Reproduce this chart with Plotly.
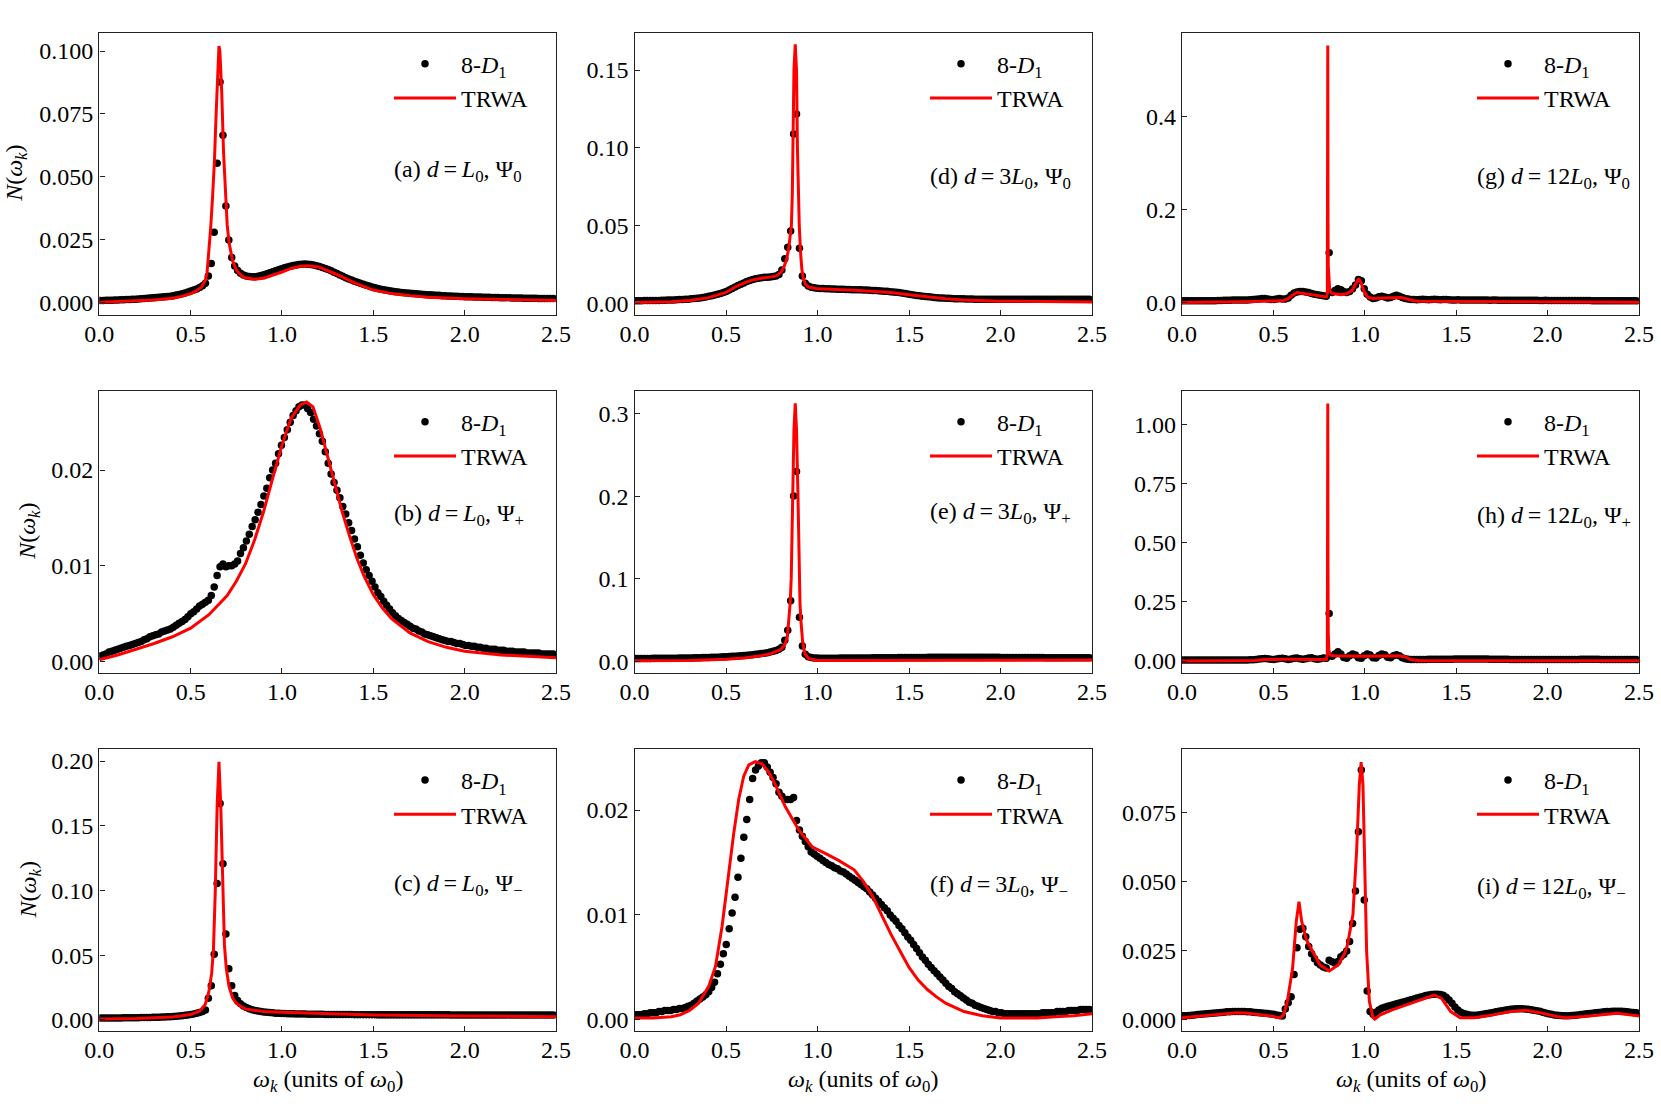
import numpy as np
import plotly.graph_objects as go

# ---------------- data ----------------
# sampling grid of the 8-D1 (dots) data
OMEGA_DOTS = np.round(0.005 + 0.016 * np.arange(156), 3)
XTICKS = [0.0, 0.5, 1.0, 1.5, 2.0, 2.5]

# (a) d = L0, Psi0
DOTS_A = [
    0.0009, 0.0009, 0.0010, 0.0010, 0.0010, 0.0011, 0.0011, 0.0012, 0.0012, 0.0013,
    0.0013, 0.0014, 0.0014, 0.0015, 0.0016, 0.0017, 0.0018, 0.0019, 0.0020, 0.0021,
    0.0022, 0.0023, 0.0024, 0.0025, 0.0026, 0.0028, 0.0030, 0.0032, 0.0035, 0.0038,
    0.0042, 0.0046, 0.0050, 0.0054, 0.0060, 0.0067, 0.0077, 0.0106, 0.0156, 0.0280,
    0.0554, 0.0877, 0.0665, 0.0384, 0.0249, 0.0180, 0.0146, 0.0128, 0.0117, 0.0110,
    0.0106, 0.0104, 0.0103, 0.0103, 0.0105, 0.0108, 0.0111, 0.0115, 0.0119, 0.0123,
    0.0127, 0.0131, 0.0135, 0.0139, 0.0142, 0.0145, 0.0148, 0.0150, 0.0152, 0.0153,
    0.0154, 0.0153, 0.0152, 0.0150, 0.0147, 0.0144, 0.0140, 0.0136, 0.0132, 0.0127,
    0.0121, 0.0116, 0.0110, 0.0105, 0.0099, 0.0094, 0.0090, 0.0085, 0.0081, 0.0077,
    0.0073, 0.0069, 0.0066, 0.0062, 0.0059, 0.0056, 0.0053, 0.0051, 0.0049, 0.0047,
    0.0045, 0.0043, 0.0042, 0.0040, 0.0039, 0.0038, 0.0037, 0.0036, 0.0035, 0.0034,
    0.0033, 0.0032, 0.0031, 0.0031, 0.0030, 0.0029, 0.0029, 0.0028, 0.0028, 0.0027,
    0.0027, 0.0026, 0.0026, 0.0025, 0.0025, 0.0024, 0.0024, 0.0024, 0.0023, 0.0023,
    0.0023, 0.0022, 0.0022, 0.0022, 0.0021, 0.0021, 0.0021, 0.0020, 0.0020, 0.0020,
    0.0020, 0.0019, 0.0019, 0.0019, 0.0019, 0.0018, 0.0018, 0.0018, 0.0018, 0.0018,
    0.0017, 0.0017, 0.0017, 0.0017, 0.0017, 0.0017]
LINE_A_X = [0.0, 0.1, 0.2, 0.3, 0.4, 0.45, 0.5, 0.53, 0.56, 0.58, 0.59, 0.60, 0.61, 0.62,
            0.63, 0.64, 0.65, 0.655, 0.66, 0.67, 0.68, 0.69, 0.70, 0.71, 0.72, 0.73, 0.75,
            0.78, 0.80, 0.85, 0.90, 0.95, 1.0, 1.05, 1.1, 1.14, 1.2, 1.3, 1.4, 1.5, 1.6,
            1.7, 1.8, 2.0, 2.2, 2.5]
LINE_A_Y = [0.0002, 0.0004, 0.0007, 0.0011, 0.0018, 0.0025, 0.0036, 0.0046, 0.0063, 0.0088,
            0.0120, 0.0200, 0.0300, 0.0420, 0.0560, 0.0760, 0.0960, 0.1020, 0.1000, 0.0840,
            0.0600, 0.0420, 0.0310, 0.0240, 0.0195, 0.0165, 0.0130, 0.0106, 0.0099, 0.0093,
            0.0097, 0.0108, 0.0122, 0.0136, 0.0145, 0.0147, 0.0142, 0.0112, 0.0078, 0.0050,
            0.0036, 0.0028, 0.0022, 0.0016, 0.0013, 0.0009]

# (b) d = L0, Psi+
DOTS_B = [
    0.0006, 0.0007, 0.0008, 0.0010, 0.0011, 0.0012, 0.0013, 0.0014, 0.0015, 0.0016,
    0.0017, 0.0018, 0.0019, 0.0020, 0.0021, 0.0023, 0.0024, 0.0026, 0.0027, 0.0028,
    0.0029, 0.0031, 0.0032, 0.0033, 0.0034, 0.0036, 0.0038, 0.0040, 0.0042, 0.0044,
    0.0047, 0.0050, 0.0052, 0.0055, 0.0058, 0.0060, 0.0062, 0.0064, 0.0069, 0.0078,
    0.0090, 0.0099, 0.0102, 0.0099, 0.0100, 0.0100, 0.0102, 0.0105, 0.0113, 0.0119,
    0.0126, 0.0133, 0.0141, 0.0148, 0.0156, 0.0164, 0.0173, 0.0181, 0.0192, 0.0200,
    0.0207, 0.0217, 0.0226, 0.0234, 0.0242, 0.0250, 0.0257, 0.0262, 0.0266, 0.0268,
    0.0268, 0.0264, 0.0260, 0.0253, 0.0246, 0.0238, 0.0230, 0.0219, 0.0207, 0.0196,
    0.0187, 0.0179, 0.0171, 0.0162, 0.0154, 0.0145, 0.0137, 0.0128, 0.0120, 0.0111,
    0.0103, 0.0096, 0.0090, 0.0084, 0.0078, 0.0072, 0.0068, 0.0063, 0.0059, 0.0055,
    0.0051, 0.0048, 0.0045, 0.0043, 0.0041, 0.0039, 0.0037, 0.0035, 0.0034, 0.0032,
    0.0031, 0.0029, 0.0028, 0.0027, 0.0026, 0.0025, 0.0024, 0.0023, 0.0022, 0.0021,
    0.0021, 0.0020, 0.0019, 0.0019, 0.0018, 0.0017, 0.0017, 0.0016, 0.0016, 0.0015,
    0.0015, 0.0014, 0.0014, 0.0013, 0.0013, 0.0013, 0.0012, 0.0012, 0.0012, 0.0011,
    0.0011, 0.0011, 0.0010, 0.0010, 0.0010, 0.0010, 0.0009, 0.0009, 0.0009, 0.0009,
    0.0009, 0.0008, 0.0008, 0.0008, 0.0008, 0.0008]
LINE_B_X = [0.0, 0.1, 0.2, 0.3, 0.4, 0.5, 0.6, 0.7, 0.75, 0.8, 0.85, 0.9, 0.95, 1.0, 1.05,
            1.1, 1.135, 1.17, 1.21, 1.25, 1.29, 1.33, 1.37, 1.41, 1.45, 1.5, 1.55, 1.6,
            1.7, 1.8, 1.9, 2.0, 2.2, 2.5]
LINE_B_Y = [0.0002, 0.0007, 0.0013, 0.0019, 0.0026, 0.0035, 0.0049, 0.0069, 0.0084, 0.0102,
            0.0127, 0.0157, 0.0192, 0.0226, 0.0254, 0.0268, 0.0271, 0.0266, 0.0243, 0.0214,
            0.0185, 0.0156, 0.0131, 0.0108, 0.0089, 0.0070, 0.0056, 0.0045, 0.0030, 0.0021,
            0.0015, 0.0011, 0.0007, 0.0004]

# (c) d = L0, Psi-
DOTS_C = [
    0.0015, 0.0015, 0.0015, 0.0015, 0.0016, 0.0016, 0.0016, 0.0016, 0.0017, 0.0017,
    0.0017, 0.0018, 0.0018, 0.0018, 0.0019, 0.0019, 0.0020, 0.0020, 0.0021, 0.0021,
    0.0022, 0.0023, 0.0024, 0.0025, 0.0026, 0.0027, 0.0029, 0.0031, 0.0033, 0.0036,
    0.0039, 0.0043, 0.0047, 0.0052, 0.0058, 0.0065, 0.0077, 0.0168, 0.0265, 0.0507,
    0.1055, 0.1673, 0.1207, 0.0664, 0.0396, 0.0265, 0.0190, 0.0150, 0.0125, 0.0108,
    0.0096, 0.0087, 0.0080, 0.0074, 0.0069, 0.0065, 0.0062, 0.0059, 0.0057, 0.0055,
    0.0053, 0.0052, 0.0051, 0.0050, 0.0049, 0.0048, 0.0048, 0.0047, 0.0047, 0.0046,
    0.0046, 0.0045, 0.0045, 0.0045, 0.0044, 0.0044, 0.0044, 0.0043, 0.0043, 0.0043,
    0.0043, 0.0043, 0.0042, 0.0042, 0.0042, 0.0042, 0.0042, 0.0041, 0.0041, 0.0041,
    0.0041, 0.0041, 0.0041, 0.0041, 0.0041, 0.0040, 0.0040, 0.0040, 0.0040, 0.0040,
    0.0040, 0.0040, 0.0040, 0.0040, 0.0040, 0.0040, 0.0040, 0.0040, 0.0040, 0.0040,
    0.0040, 0.0040, 0.0040, 0.0040, 0.0040, 0.0040, 0.0040, 0.0040, 0.0040, 0.0040,
    0.0039, 0.0039, 0.0039, 0.0039, 0.0039, 0.0039, 0.0039, 0.0039, 0.0039, 0.0039,
    0.0039, 0.0039, 0.0039, 0.0039, 0.0039, 0.0039, 0.0039, 0.0039, 0.0039, 0.0039,
    0.0039, 0.0039, 0.0039, 0.0039, 0.0039, 0.0039, 0.0039, 0.0039, 0.0039, 0.0039,
    0.0039, 0.0039, 0.0039, 0.0039, 0.0039, 0.0039]
LINE_C_X = [0.0, 0.2, 0.4, 0.5, 0.55, 0.58, 0.60, 0.615, 0.625, 0.635, 0.645, 0.655, 0.665,
            0.675, 0.685, 0.695, 0.71, 0.73, 0.75, 0.8, 0.9, 1.0, 1.5, 2.0, 2.5]
LINE_C_Y = [0.0008, 0.0012, 0.0024, 0.0042, 0.0070, 0.0120, 0.0220, 0.0360, 0.0550, 0.1000,
            0.1650, 0.1995, 0.1650, 0.1000, 0.0580, 0.0400, 0.0260, 0.0170, 0.0128, 0.0085,
            0.0066, 0.0059, 0.0039, 0.0031, 0.0026]

# (d) d = 3L0, Psi0
DOTS_D = [
    0.0017, 0.0017, 0.0017, 0.0018, 0.0018, 0.0018, 0.0019, 0.0019, 0.0019, 0.0020,
    0.0020, 0.0021, 0.0021, 0.0022, 0.0023, 0.0024, 0.0025, 0.0026, 0.0027, 0.0029,
    0.0031, 0.0033, 0.0035, 0.0038, 0.0041, 0.0045, 0.0049, 0.0054, 0.0059, 0.0064,
    0.0070, 0.0076, 0.0085, 0.0095, 0.0105, 0.0114, 0.0122, 0.0131, 0.0140, 0.0147,
    0.0153, 0.0158, 0.0162, 0.0165, 0.0167, 0.0168, 0.0170, 0.0172, 0.0176, 0.0185,
    0.0215, 0.0287, 0.0360, 0.0465, 0.1088, 0.1217, 0.0354, 0.0176, 0.0129, 0.0112,
    0.0104, 0.0100, 0.0097, 0.0096, 0.0095, 0.0094, 0.0093, 0.0092, 0.0092, 0.0091,
    0.0090, 0.0090, 0.0089, 0.0089, 0.0088, 0.0088, 0.0087, 0.0087, 0.0086, 0.0085,
    0.0084, 0.0083, 0.0082, 0.0081, 0.0080, 0.0078, 0.0077, 0.0075, 0.0073, 0.0071,
    0.0069, 0.0066, 0.0063, 0.0060, 0.0057, 0.0054, 0.0051, 0.0048, 0.0046, 0.0044,
    0.0042, 0.0040, 0.0038, 0.0036, 0.0035, 0.0034, 0.0033, 0.0032, 0.0031, 0.0030,
    0.0030, 0.0029, 0.0029, 0.0028, 0.0028, 0.0028, 0.0027, 0.0027, 0.0027, 0.0027,
    0.0026, 0.0026, 0.0026, 0.0026, 0.0026, 0.0026, 0.0026, 0.0026, 0.0026, 0.0026,
    0.0026, 0.0026, 0.0026, 0.0026, 0.0026, 0.0026, 0.0026, 0.0026, 0.0026, 0.0026,
    0.0026, 0.0026, 0.0026, 0.0026, 0.0026, 0.0026, 0.0026, 0.0026, 0.0026, 0.0026,
    0.0026, 0.0026, 0.0026, 0.0026, 0.0026, 0.0026]
LINE_D_X = [0.0, 0.2, 0.3, 0.4, 0.5, 0.55, 0.6, 0.65, 0.7, 0.75, 0.78, 0.80, 0.815, 0.83,
            0.842, 0.850, 0.857, 0.862, 0.866, 0.871, 0.878, 0.885, 0.890, 0.895, 0.900,
            0.907, 0.914, 0.922, 0.935, 0.95, 1.0, 1.2, 1.4, 1.5, 1.6, 1.7, 1.8, 2.0, 2.5]
LINE_D_Y = [0.0005, 0.0010, 0.0018, 0.0035, 0.0070, 0.0105, 0.0132, 0.0152, 0.0163, 0.0170,
            0.0180, 0.0200, 0.0230, 0.0280, 0.0350, 0.0420, 0.0500, 0.0700, 0.1000, 0.1500,
            0.1665, 0.1500, 0.1000, 0.0700, 0.0500, 0.0330, 0.0220, 0.0160, 0.0120, 0.0105,
            0.0093, 0.0084, 0.0070, 0.0055, 0.0041, 0.0030, 0.0022, 0.0014, 0.0009]

# (e) d = 3L0, Psi+
DOTS_E = [
    0.0040, 0.0040, 0.0040, 0.0040, 0.0040, 0.0040, 0.0041, 0.0041, 0.0041, 0.0041,
    0.0042, 0.0042, 0.0042, 0.0043, 0.0043, 0.0044, 0.0044, 0.0045, 0.0045, 0.0046,
    0.0047, 0.0048, 0.0049, 0.0050, 0.0051, 0.0052, 0.0053, 0.0054, 0.0055, 0.0057,
    0.0059, 0.0061, 0.0063, 0.0065, 0.0067, 0.0069, 0.0072, 0.0075, 0.0078, 0.0081,
    0.0085, 0.0089, 0.0093, 0.0098, 0.0103, 0.0109, 0.0117, 0.0125, 0.0135, 0.0150,
    0.0175, 0.0260, 0.0380, 0.0737, 0.2000, 0.2296, 0.0536, 0.0190, 0.0090, 0.0060,
    0.0050, 0.0046, 0.0044, 0.0043, 0.0043, 0.0043, 0.0043, 0.0043, 0.0043, 0.0043,
    0.0044, 0.0044, 0.0044, 0.0044, 0.0045, 0.0045, 0.0045, 0.0045, 0.0046, 0.0046,
    0.0046, 0.0047, 0.0047, 0.0047, 0.0048, 0.0048, 0.0048, 0.0049, 0.0049, 0.0049,
    0.0050, 0.0050, 0.0050, 0.0051, 0.0051, 0.0051, 0.0052, 0.0052, 0.0052, 0.0052,
    0.0053, 0.0053, 0.0053, 0.0053, 0.0053, 0.0053, 0.0053, 0.0053, 0.0053, 0.0053,
    0.0053, 0.0053, 0.0053, 0.0053, 0.0053, 0.0053, 0.0053, 0.0053, 0.0053, 0.0053,
    0.0053, 0.0053, 0.0053, 0.0053, 0.0053, 0.0052, 0.0052, 0.0052, 0.0052, 0.0052,
    0.0052, 0.0051, 0.0051, 0.0051, 0.0051, 0.0050, 0.0050, 0.0050, 0.0050, 0.0050,
    0.0049, 0.0049, 0.0049, 0.0049, 0.0049, 0.0049, 0.0049, 0.0049, 0.0049, 0.0049,
    0.0048, 0.0048, 0.0048, 0.0048, 0.0048, 0.0048]
LINE_E_X = [0.0, 0.3, 0.5, 0.6, 0.7, 0.75, 0.8, 0.82, 0.835, 0.843, 0.850, 0.856, 0.865,
            0.871, 0.878, 0.885, 0.893, 0.899, 0.904, 0.909, 0.918, 0.93, 0.95, 1.0, 1.5,
            2.0, 2.5]
LINE_E_Y = [0.0010, 0.0015, 0.0030, 0.0045, 0.0075, 0.0100, 0.0150, 0.0200, 0.0300, 0.0500,
            0.0700, 0.1000, 0.2000, 0.2800, 0.3120, 0.2800, 0.2000, 0.1000, 0.0700, 0.0500,
            0.0250, 0.0100, 0.0040, 0.0015, 0.0018, 0.0025, 0.0020]

# (f) d = 3L0, Psi-
DOTS_F = [
    0.0005, 0.0005, 0.0005, 0.0006, 0.0006, 0.0007, 0.0007, 0.0007, 0.0008, 0.0008,
    0.0009, 0.0009, 0.0009, 0.0010, 0.0010, 0.0011, 0.0011, 0.0012, 0.0013, 0.0014,
    0.0016, 0.0018, 0.0020, 0.0022, 0.0024, 0.0027, 0.0031, 0.0036, 0.0044, 0.0053,
    0.0063, 0.0072, 0.0087, 0.0102, 0.0117, 0.0136, 0.0154, 0.0174, 0.0191, 0.0210,
    0.0230, 0.0238, 0.0242, 0.0245, 0.0245, 0.0241, 0.0236, 0.0231, 0.0225, 0.0217,
    0.0213, 0.0210, 0.0210, 0.0210, 0.0212, 0.0190, 0.0181, 0.0175, 0.0170, 0.0165,
    0.0160, 0.0158, 0.0156, 0.0154, 0.0152, 0.0150, 0.0148, 0.0147, 0.0145, 0.0144,
    0.0142, 0.0141, 0.0139, 0.0137, 0.0135, 0.0133, 0.0131, 0.0129, 0.0127, 0.0125,
    0.0122, 0.0119, 0.0116, 0.0113, 0.0110, 0.0107, 0.0104, 0.0100, 0.0097, 0.0094,
    0.0090, 0.0087, 0.0083, 0.0079, 0.0076, 0.0072, 0.0068, 0.0064, 0.0060, 0.0057,
    0.0053, 0.0050, 0.0047, 0.0044, 0.0041, 0.0038, 0.0035, 0.0032, 0.0030, 0.0027,
    0.0025, 0.0023, 0.0021, 0.0019, 0.0017, 0.0016, 0.0014, 0.0013, 0.0012, 0.0011,
    0.0010, 0.0009, 0.0008, 0.0008, 0.0007, 0.0007, 0.0006, 0.0006, 0.0006, 0.0006,
    0.0006, 0.0006, 0.0006, 0.0006, 0.0006, 0.0006, 0.0006, 0.0006, 0.0006, 0.0007,
    0.0007, 0.0007, 0.0007, 0.0007, 0.0008, 0.0008, 0.0008, 0.0008, 0.0009, 0.0009,
    0.0009, 0.0009, 0.0010, 0.0010, 0.0010, 0.0010]
LINE_F_X = [0.0, 0.1, 0.2, 0.25, 0.3, 0.35, 0.405, 0.442, 0.478, 0.514, 0.542, 0.569, 0.596,
            0.624, 0.660, 0.696, 0.733, 0.770, 0.824, 0.897, 0.970, 1.05, 1.115, 1.2, 1.25,
            1.3, 1.35, 1.4, 1.45, 1.5, 1.55, 1.6, 1.65, 1.7, 1.75, 1.8, 1.9, 2.0, 2.1, 2.2,
            2.3, 2.4, 2.5]
LINE_F_Y = [0.0002, 0.0002, 0.0003, 0.0005, 0.0009, 0.0016, 0.0032, 0.0051, 0.0089, 0.0140,
            0.0178, 0.0210, 0.0232, 0.0243, 0.0246, 0.0244, 0.0236, 0.0224, 0.0203, 0.0181,
            0.0165, 0.0158, 0.0152, 0.0143, 0.0132, 0.0118, 0.0100, 0.0082, 0.0066, 0.0050,
            0.0038, 0.0029, 0.0022, 0.0016, 0.0012, 0.0008, 0.0004, 0.0002, 0.0002, 0.0002,
            0.0003, 0.0004, 0.0006]

# (g) d = 12L0, Psi0
DOTS_G = [
    0.0040, 0.0040, 0.0040, 0.0040, 0.0040, 0.0040, 0.0040, 0.0040, 0.0040, 0.0040,
    0.0040, 0.0040, 0.0045, 0.0045, 0.0050, 0.0050, 0.0050, 0.0055, 0.0055, 0.0055,
    0.0060, 0.0060, 0.0060, 0.0065, 0.0070, 0.0075, 0.0080, 0.0090, 0.0090, 0.0080,
    0.0070, 0.0070, 0.0080, 0.0090, 0.0080, 0.0080, 0.0100, 0.0160, 0.0210, 0.0230,
    0.0240, 0.0240, 0.0230, 0.0220, 0.0200, 0.0180, 0.0170, 0.0160, 0.0150, 0.0140,
    0.1075, 0.0220, 0.0260, 0.0300, 0.0280, 0.0240, 0.0220, 0.0240, 0.0300, 0.0380,
    0.0500, 0.0470, 0.0300, 0.0180, 0.0120, 0.0090, 0.0100, 0.0130, 0.0140, 0.0120,
    0.0100, 0.0110, 0.0140, 0.0160, 0.0140, 0.0110, 0.0090, 0.0080, 0.0070, 0.0070,
    0.0065, 0.0070, 0.0075, 0.0070, 0.0065, 0.0070, 0.0075, 0.0070, 0.0065, 0.0070,
    0.0070, 0.0065, 0.0060, 0.0060, 0.0065, 0.0060, 0.0060, 0.0055, 0.0060, 0.0060,
    0.0055, 0.0055, 0.0060, 0.0055, 0.0055, 0.0050, 0.0055, 0.0055, 0.0050, 0.0050,
    0.0050, 0.0050, 0.0050, 0.0050, 0.0050, 0.0050, 0.0050, 0.0050, 0.0050, 0.0050,
    0.0050, 0.0050, 0.0045, 0.0045, 0.0050, 0.0045, 0.0045, 0.0045, 0.0045, 0.0045,
    0.0045, 0.0045, 0.0045, 0.0045, 0.0045, 0.0045, 0.0045, 0.0045, 0.0045, 0.0045,
    0.0040, 0.0040, 0.0040, 0.0040, 0.0040, 0.0040, 0.0040, 0.0040, 0.0040, 0.0040,
    0.0040, 0.0040, 0.0040, 0.0040, 0.0040, 0.0040]
LINE_G_X = [0.0, 0.2, 0.4, 0.5, 0.55, 0.58, 0.6, 0.63, 0.66, 0.7, 0.75, 0.79, 0.795, 0.7965,
            0.7975, 0.7985, 0.80, 0.803, 0.808, 0.815, 0.83, 0.87, 0.9, 0.93, 0.95, 0.967,
            0.98, 0.995, 1.015, 1.045, 1.1, 1.15, 1.2, 1.23, 1.27, 1.3, 1.5, 2.0, 2.5]
LINE_G_Y = [0.0005, 0.0010, 0.0025, 0.0035, 0.0040, 0.0080, 0.0150, 0.0220, 0.0200, 0.0170,
            0.0140, 0.0125, 0.0200, 0.2000, 0.5530, 0.2000, 0.0800, 0.0400, 0.0270, 0.0220,
            0.0190, 0.0170, 0.0190, 0.0260, 0.0400, 0.0520, 0.0420, 0.0250, 0.0120, 0.0090,
            0.0100, 0.0110, 0.0110, 0.0080, 0.0040, 0.0030, 0.0025, 0.0012, 0.0008]

# (h) d = 12L0, Psi+
DOTS_H = [
    0.004, 0.004, 0.004, 0.004, 0.004, 0.004, 0.004, 0.004, 0.004, 0.004,
    0.004, 0.004, 0.004, 0.004, 0.004, 0.004, 0.004, 0.004, 0.004, 0.004,
    0.004, 0.004, 0.004, 0.005, 0.005, 0.006, 0.008, 0.010, 0.011, 0.010,
    0.007, 0.006, 0.008, 0.011, 0.012, 0.009, 0.006, 0.008, 0.012, 0.013,
    0.010, 0.007, 0.009, 0.013, 0.014, 0.010, 0.007, 0.010, 0.013, 0.012,
    0.201, 0.020, 0.030, 0.039, 0.030, 0.015, 0.012, 0.022, 0.030, 0.025,
    0.014, 0.012, 0.022, 0.030, 0.025, 0.014, 0.013, 0.023, 0.030, 0.026,
    0.016, 0.014, 0.022, 0.026, 0.022, 0.014, 0.009, 0.007, 0.006, 0.006,
    0.006, 0.006, 0.006, 0.006, 0.007, 0.007, 0.007, 0.007, 0.007, 0.007,
    0.007, 0.007, 0.007, 0.008, 0.008, 0.008, 0.008, 0.008, 0.008, 0.008,
    0.008, 0.008, 0.008, 0.008, 0.008, 0.007, 0.007, 0.007, 0.007, 0.007,
    0.007, 0.007, 0.006, 0.006, 0.006, 0.006, 0.006, 0.006, 0.006, 0.006,
    0.006, 0.006, 0.006, 0.006, 0.006, 0.006, 0.006, 0.006, 0.006, 0.006,
    0.006, 0.006, 0.006, 0.006, 0.006, 0.006, 0.007, 0.007, 0.007, 0.007,
    0.007, 0.007, 0.007, 0.006, 0.006, 0.006, 0.006, 0.006, 0.006, 0.006,
    0.006, 0.006, 0.006, 0.006, 0.006, 0.006]
LINE_H_X = [0.0, 0.3, 0.4, 0.45, 0.5, 0.6, 0.7, 0.79, 0.795, 0.7965, 0.7975, 0.7985, 0.80,
            0.803, 0.808, 0.815, 0.83, 0.9, 1.0, 1.1, 1.18, 1.22, 1.25, 1.3, 1.5, 2.0, 2.5]
LINE_H_Y = [0.000, 0.000, 0.002, 0.006, 0.007, 0.007, 0.006, 0.006, 0.030, 0.400, 1.088,
            0.400, 0.120, 0.050, 0.030, 0.024, 0.022, 0.020, 0.020, 0.021, 0.022, 0.018,
            0.006, 0.001, 0.001, 0.001, 0.001]

# (i) d = 12L0, Psi-
DOTS_I = [
    0.0013, 0.0013, 0.0014, 0.0015, 0.0016, 0.0017, 0.0018, 0.0019, 0.0020, 0.0021,
    0.0022, 0.0023, 0.0024, 0.0025, 0.0026, 0.0027, 0.0027, 0.0028, 0.0028, 0.0028,
    0.0028, 0.0028, 0.0027, 0.0027, 0.0026, 0.0025, 0.0024, 0.0023, 0.0022, 0.0021,
    0.0019, 0.0018, 0.0016, 0.0014, 0.0012, 0.0037, 0.0060, 0.0082, 0.0163, 0.0260,
    0.0327, 0.0330, 0.0300, 0.0264, 0.0238, 0.0220, 0.0205, 0.0197, 0.0190, 0.0186,
    0.0214, 0.0209, 0.0203, 0.0210, 0.0227, 0.0235, 0.0248, 0.0282, 0.0348, 0.0466,
    0.0681, 0.0905, 0.0433, 0.0103, 0.0028, 0.0018, 0.0026, 0.0034, 0.0040, 0.0044,
    0.0047, 0.0050, 0.0053, 0.0056, 0.0059, 0.0062, 0.0065, 0.0068, 0.0071, 0.0074,
    0.0077, 0.0080, 0.0083, 0.0086, 0.0088, 0.0090, 0.0091, 0.0091, 0.0090, 0.0087,
    0.0080, 0.0070, 0.0058, 0.0045, 0.0034, 0.0026, 0.0021, 0.0018, 0.0016, 0.0015,
    0.0015, 0.0016, 0.0017, 0.0019, 0.0021, 0.0023, 0.0025, 0.0027, 0.0029, 0.0031,
    0.0033, 0.0035, 0.0036, 0.0037, 0.0038, 0.0038, 0.0038, 0.0037, 0.0036, 0.0035,
    0.0033, 0.0031, 0.0029, 0.0026, 0.0023, 0.0020, 0.0018, 0.0016, 0.0015, 0.0014,
    0.0013, 0.0013, 0.0013, 0.0014, 0.0015, 0.0016, 0.0017, 0.0018, 0.0020, 0.0021,
    0.0022, 0.0024, 0.0025, 0.0026, 0.0027, 0.0028, 0.0028, 0.0029, 0.0029, 0.0029,
    0.0029, 0.0028, 0.0027, 0.0026, 0.0025, 0.0024]
LINE_I_X = [0.0, 0.1, 0.2, 0.25, 0.3, 0.35, 0.4, 0.45, 0.5, 0.535, 0.555, 0.575, 0.59, 0.605,
            0.625, 0.640, 0.655, 0.68, 0.705, 0.755, 0.805, 0.855, 0.89, 0.905, 0.935, 0.955,
            0.97, 0.98, 0.99, 1.0, 1.01, 1.025, 1.045, 1.055, 1.085, 1.15, 1.2, 1.3, 1.38,
            1.42, 1.47, 1.52, 1.6, 1.7, 1.8, 1.88, 1.95, 2.05, 2.1, 2.2, 2.3, 2.38, 2.45, 2.5]
LINE_I_Y = [0.0006, 0.0012, 0.0019, 0.0022, 0.0024, 0.0023, 0.0019, 0.0015, 0.0010, 0.0005,
            0.0015, 0.0060, 0.0120, 0.0185, 0.0354, 0.0427, 0.0354, 0.0290, 0.0258, 0.0197,
            0.0175, 0.0197, 0.0240, 0.0270, 0.0379, 0.0608, 0.0850, 0.0933, 0.0850, 0.0548,
            0.0246, 0.0064, 0.0006, 0.0001, 0.0016, 0.0034, 0.0046, 0.0070, 0.0088, 0.0076,
            0.0028, 0.0006, 0.0006, 0.0016, 0.0028, 0.0033, 0.0025, 0.0010, 0.0006, 0.0010,
            0.0018, 0.0022, 0.0016, 0.0012]

YTICKS_A = [0.0, 0.025, 0.05, 0.075, 0.1]
YTICKS_B = [0.0, 0.01, 0.02]
YTICKS_C = [0.0, 0.05, 0.10, 0.15, 0.20]
YTICKS_D = [0.0, 0.05, 0.10, 0.15]
YTICKS_E = [0.0, 0.1, 0.2, 0.3]
YTICKS_F = [0.0, 0.01, 0.02]
YTICKS_G = [0.0, 0.2, 0.4]
YTICKS_H = [0.0, 0.25, 0.5, 0.75, 1.0]
YTICKS_I = [0.0, 0.025, 0.05, 0.075]

TS = "\u2009"
LABELS = {
    "a": f"(a) <i>d</i>{TS}={TS}<i>L</i><sub>0</sub>, Ψ<sub>0</sub>",
    "b": f"(b) <i>d</i>{TS}={TS}<i>L</i><sub>0</sub>, Ψ<sub>+</sub>",
    "c": f"(c) <i>d</i>{TS}={TS}<i>L</i><sub>0</sub>, Ψ<sub>−</sub>",
    "d": f"(d) <i>d</i>{TS}={TS}3<i>L</i><sub>0</sub>, Ψ<sub>0</sub>",
    "e": f"(e) <i>d</i>{TS}={TS}3<i>L</i><sub>0</sub>, Ψ<sub>+</sub>",
    "f": f"(f) <i>d</i>{TS}={TS}3<i>L</i><sub>0</sub>, Ψ<sub>−</sub>",
    "g": f"(g) <i>d</i>{TS}={TS}12<i>L</i><sub>0</sub>, Ψ<sub>0</sub>",
    "h": f"(h) <i>d</i>{TS}={TS}12<i>L</i><sub>0</sub>, Ψ<sub>+</sub>",
    "i": f"(i) <i>d</i>{TS}={TS}12<i>L</i><sub>0</sub>, Ψ<sub>−</sub>",
}
DOT_NAME = "8-<i>D</i><sub>1</sub>"
LINE_NAME = "TRWA"
Y_TITLE = "<i>N</i>(<i>ω<sub>k</sub></i>)"
X_TITLE = "<i>ω<sub>k</sub></i> (units of <i>ω</i><sub>0</sub>)"

# ---------------- layout / style ----------------
PANELS = {
    "a": dict(dots=DOTS_A, lx=LINE_A_X, ly=LINE_A_Y, yr=[-0.0049, 0.1073], ticks=YTICKS_A, fmt=".3f", lab_y=0.511, row=0, col=0),
    "b": dict(dots=DOTS_B, lx=LINE_B_X, ly=LINE_B_Y, yr=[-0.00118, 0.02828], ticks=YTICKS_B, fmt=".2f", lab_y=0.560, row=1, col=0),
    "c": dict(dots=DOTS_C, lx=LINE_C_X, ly=LINE_C_Y, yr=[-0.0085, 0.2093], ticks=YTICKS_C, fmt=".2f", lab_y=0.518, row=2, col=0),
    "d": dict(dots=DOTS_D, lx=LINE_D_X, ly=LINE_D_Y, yr=[-0.0075, 0.1740], ticks=YTICKS_D, fmt=".2f", lab_y=0.484, row=0, col=1),
    "e": dict(dots=DOTS_E, lx=LINE_E_X, ly=LINE_E_Y, yr=[-0.01365, 0.3273], ticks=YTICKS_E, fmt=".1f", lab_y=0.566, row=1, col=1),
    "f": dict(dots=DOTS_F, lx=LINE_F_X, ly=LINE_F_Y, yr=[-0.00105, 0.02581], ticks=YTICKS_F, fmt=".2f", lab_y=0.515, row=2, col=1),
    "g": dict(dots=DOTS_G, lx=LINE_G_X, ly=LINE_G_Y, yr=[-0.0265, 0.5806], ticks=YTICKS_G, fmt=".1f", lab_y=0.484, row=0, col=2),
    "h": dict(dots=DOTS_H, lx=LINE_H_X, ly=LINE_H_Y, yr=[-0.0507, 1.142], ticks=YTICKS_H, fmt=".2f", lab_y=0.554, row=1, col=2),
    "i": dict(dots=DOTS_I, lx=LINE_I_X, ly=LINE_I_Y, yr=[-0.00425, 0.0981], ticks=YTICKS_I, fmt=".3f", lab_y=0.506, row=2, col=2),
}

W, H = 1661, 1107
COL_PX = [(99.3, 556.0), (634.6, 1092.0), (1182.0, 1639.0)]
ROW_PX = [(32.7, 315.0), (390.7, 673.0), (749.0, 1031.0)]
FONT = "Liberation Serif, Times New Roman, serif"
FS = 24
AXC = "#222222"

fig = go.Figure()
layout_updates = {}
annotations = []

for n, key in enumerate(["a", "b", "c", "d", "e", "f", "g", "h", "i"], start=1):
    p = PANELS[key]
    sfx = "" if n == 1 else str(n)
    xname, yname, legname = "x" + sfx, "y" + sfx, "legend" + sfx
    dots = p["dots"]
    fig.add_trace(go.Scatter(
        x=OMEGA_DOTS[:len(dots)], y=dots[:len(OMEGA_DOTS)], mode="markers",
        marker=dict(color="black", size=7.5, line=dict(width=0)),
        name=DOT_NAME, xaxis=xname, yaxis=yname, legend=legname,
        legendgroup=key + "dots", hoverinfo="skip"))
    fig.add_trace(go.Scatter(
        x=p["lx"], y=p["ly"], mode="lines",
        line=dict(color="#ff0000", width=3),
        name=LINE_NAME, xaxis=xname, yaxis=yname, legend=legname,
        legendgroup=key + "line", hoverinfo="skip"))

    l, r = COL_PX[p["col"]]
    t, b = ROW_PX[p["row"]]
    common = dict(showline=True, mirror=True, linecolor=AXC, linewidth=1.4,
                  ticks="inside", ticklen=5, tickwidth=1.2, tickcolor=AXC,
                  showgrid=False, zeroline=False,
                  tickfont=dict(family=FONT, size=FS, color="black"))
    layout_updates["xaxis" + sfx] = dict(domain=[l / W, r / W], anchor=yname,
                                         range=[0, 2.5], tickvals=XTICKS,
                                         tickformat=".1f", ticklabelstandoff=-3,
                                         **common)
    layout_updates["yaxis" + sfx] = dict(domain=[1 - b / H, 1 - t / H], anchor=xname,
                                         range=p["yr"], tickvals=p["ticks"],
                                         tickformat=p["fmt"], **common)
    layout_updates[legname] = dict(
        x=(r - 167) / W, xanchor="left", y=1 - (t + 9) / H, yanchor="top",
        bgcolor="rgba(0,0,0,0)", borderwidth=0, itemwidth=62, tracegroupgap=0,
        font=dict(family=FONT, size=FS, color="black"))
    annotations.append(dict(
        text=LABELS[key], xref=xname + " domain", yref=yname + " domain",
        x=293 / 457, y=p["lab_y"], xanchor="left", yanchor="middle",
        showarrow=False, font=dict(family=FONT, size=FS, color="black")))

# axis titles
for ri, xc in enumerate([16, 29, 29.5]):
    t, b = ROW_PX[ri]
    annotations.append(dict(
        text=Y_TITLE, xref="paper", yref="paper", x=xc / W, y=1 - (t + b) / 2 / H,
        xanchor="center", yanchor="middle", textangle=-90, showarrow=False,
        font=dict(family=FONT, size=FS, color="black")))
for ci in range(3):
    l, r = COL_PX[ci]
    annotations.append(dict(
        text=X_TITLE, xref="paper", yref="paper", x=(l + r) / 2 / W, y=1 - 1081 / H,
        xanchor="center", yanchor="middle", showarrow=False,
        font=dict(family=FONT, size=FS, color="black")))

fig.update_layout(
    width=W, height=H, margin=dict(l=0, r=0, t=0, b=0, autoexpand=False),
    paper_bgcolor="white", plot_bgcolor="white", showlegend=True,
    font=dict(family=FONT, size=FS, color="black"),
    annotations=annotations, **layout_updates)

fig.write_html("out.html", config={"displayModeBar": False},
               post_script="document.body.style.margin='0px';")
